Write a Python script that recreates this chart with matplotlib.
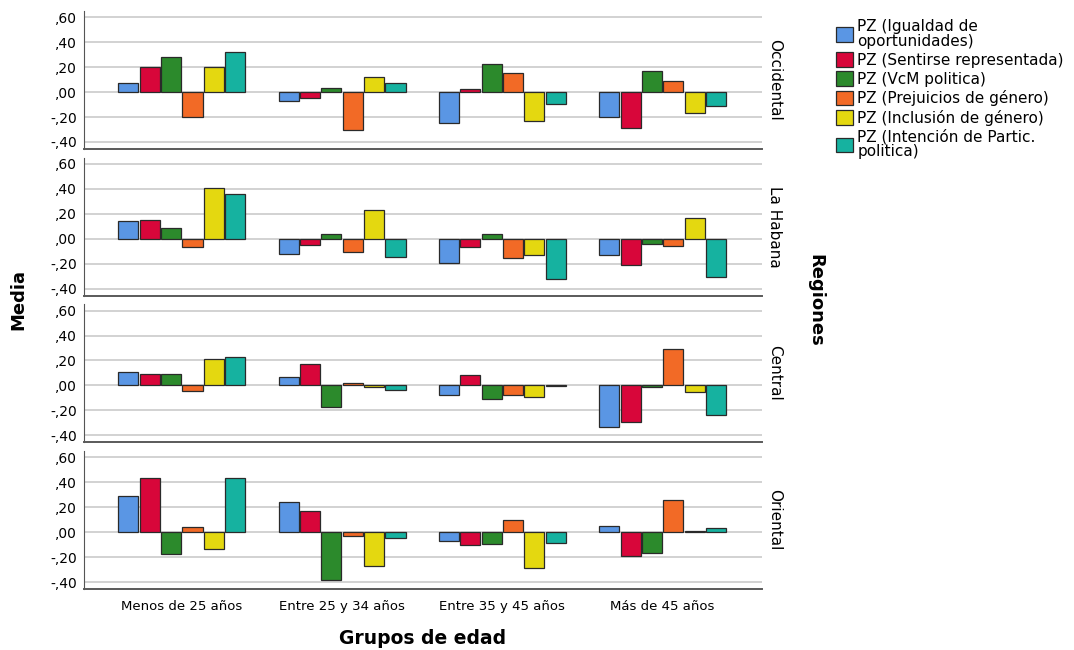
import matplotlib
matplotlib.use("Agg")
import matplotlib.pyplot as plt
import numpy as np

# Grupos de edad (x axis) and regiones (panels)
grupos = ["Menos de 25 años", "Entre 25 y 34 años", "Entre 35 y 45 años", "Más de 45 años"]
regiones = ["Occidental", "La Habana", "Central", "Oriental"]

series = ["PZ (Igualdad de\noportunidades)", "PZ (Sentirse representada)", "PZ (VcM politica)",
          "PZ (Prejuicios de género)", "PZ (Inclusión de género)", "PZ (Intención de Partic.\npolitica)"]
colores = ["#5a96e4", "#d8063a", "#2c8a2c", "#f26a26", "#e4d810", "#16b2a0"]

# media per region -> per series -> per age group
occidental = [
    [0.07, -0.07, -0.245, -0.20],   # igualdad
    [0.20, -0.05, 0.025, -0.29],    # sentirse representada
    [0.28, 0.03, 0.225, 0.17],      # VcM
    [-0.20, -0.30, 0.15, 0.085],    # prejuicios
    [0.205, 0.12, -0.23, -0.17],    # inclusion
    [0.32, 0.075, -0.095, -0.11],   # intencion
]
la_habana = [
    [0.14, -0.125, -0.195, -0.13],
    [0.15, -0.05, -0.07, -0.21],
    [0.085, 0.035, 0.04, -0.045],
    [-0.065, -0.11, -0.155, -0.055],
    [0.405, 0.23, -0.13, 0.165],
    [0.36, -0.145, -0.32, -0.31],
]
central = [
    [0.11, 0.065, -0.075, -0.33],
    [0.09, 0.17, 0.085, -0.29],
    [0.095, -0.17, -0.11, -0.012],
    [-0.045, 0.018, -0.075, 0.29],
    [0.21, -0.01, -0.095, -0.05],
    [0.225, -0.04, -0.005, -0.24],
]
oriental = [
    [0.29, 0.245, -0.075, 0.045],
    [0.43, 0.17, -0.105, -0.195],
    [-0.175, -0.385, -0.095, -0.17],
    [0.04, -0.03, 0.10, 0.26],
    [-0.135, -0.27, -0.285, 0.008],
    [0.43, -0.045, -0.09, 0.03],
]
datos = [occidental, la_habana, central, oriental]

yticks = [-0.4, -0.2, 0.0, 0.2, 0.4, 0.6]
ytick_labels = ["-,40", "-,20", ",00", ",20", ",40", ",60"]

fig, axes = plt.subplots(4, 1, figsize=(10.74, 6.5), dpi=100, sharex=True)
fig.subplots_adjust(left=84 / 1074, right=762 / 1074, top=1 - 11 / 650, bottom=1 - 589 / 650, hspace=0.063)

x = np.arange(len(grupos))
w = 0.8 / len(series)

for ax, region, vals in zip(axes, regiones, datos):
    for i, (s, c) in enumerate(zip(series, colores)):
        ax.bar(x + (i - 2.5) * w, vals[i], width=w * 0.94, color=c, edgecolor="#2a2a2a",
               linewidth=0.9, label=s, zorder=3)
    ax.set_ylim(-0.456, 0.65)
    ax.set_xlim(-0.61, 3.62)
    ax.set_yticks(yticks)
    ax.set_yticklabels(ytick_labels, fontsize=10)
    ax.grid(axis="y", color="#cfcfcf", linewidth=1.3, zorder=0)
    ax.set_axisbelow(True)
    for sp in ["top", "right"]:
        ax.spines[sp].set_visible(False)
    ax.spines["left"].set_color("#555555")
    ax.spines["bottom"].set_color("#5a5a5a")
    ax.spines["bottom"].set_linewidth(1.4)
    ax.tick_params(axis="y", length=0, pad=5)
    ax.tick_params(axis="x", length=0, pad=8)
    ax.text(1.008, 0.5, region, transform=ax.transAxes, rotation=270,
            va="center", ha="left", fontsize=11)

axes[-1].set_xticks(x)
axes[-1].set_xticklabels(grupos, fontsize=9.5)

fig.text(18 / 1074, 1 - 300 / 650, "Media", rotation=90, va="center", ha="center",
         fontsize=13, fontweight="bold")
fig.text(423 / 1074, 1 - 638 / 650, "Grupos de edad", va="center", ha="center",
         fontsize=13.5, fontweight="bold")
fig.text(815 / 1074, 1 - 300 / 650, "Regiones", rotation=270, va="center", ha="center",
         fontsize=13, fontweight="bold")

handles, labels = axes[0].get_legend_handles_labels()
leg = fig.legend(handles, labels, loc="upper left", bbox_to_anchor=(836 / 1074, 1 - 19 / 650),
                 frameon=False, fontsize=11, handlelength=1.1, handleheight=1.1,
                 handletextpad=0.3, labelspacing=0.22, borderpad=0, borderaxespad=0)
for t in leg.get_texts():
    t.set_linespacing(1.0)

plt.savefig("out.png", dpi=100)
